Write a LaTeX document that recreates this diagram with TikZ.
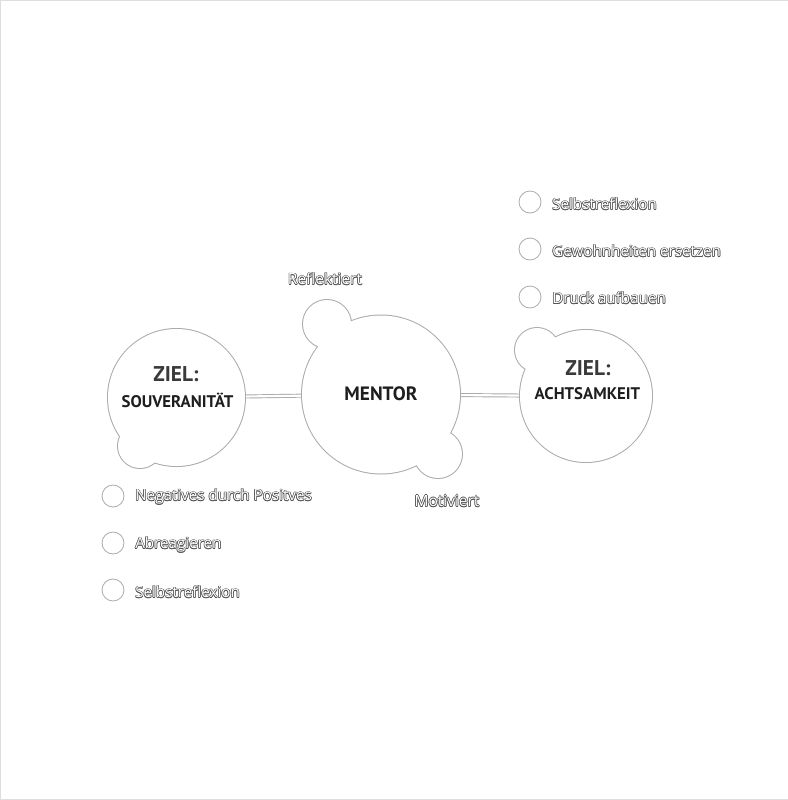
\documentclass[tikz,border=0pt]{standalone}
\usepackage{fontspec}
\setmainfont{Open Sans}
\newfontfamily\headfont{PT Sans}
\definecolor{blobgray}{HTML}{ABABAB}
\definecolor{halogray}{HTML}{555555}
\definecolor{framegray}{HTML}{DDDDDD}
\definecolor{headdark}{HTML}{1E1E1E}
\definecolor{headmid}{HTML}{3A3A3A}
\newlength\hw
\setlength\hw{0.5pt}
\newcommand\halotext[1]{\leavevmode
 \rlap{\color{halogray}\hspace*{-\hw}#1}%
 \rlap{\color{halogray}\hspace*{\hw}#1}%
 \rlap{\color{halogray}\raisebox{\hw}{#1}}%
 \rlap{\color{halogray}\raisebox{-\hw}{#1}}%
 \rlap{\color{halogray}\hspace*{-0.7\hw}\raisebox{0.7\hw}{#1}}%
 \rlap{\color{halogray}\hspace*{0.7\hw}\raisebox{0.7\hw}{#1}}%
 \rlap{\color{halogray}\hspace*{-0.7\hw}\raisebox{-0.7\hw}{#1}}%
 \rlap{\color{halogray}\hspace*{0.7\hw}\raisebox{-0.7\hw}{#1}}%
 {\color{white}#1}}
\tikzset{
  blobring/.style={draw=blobgray, line width=1.5pt},
  blobfill/.style={fill=white},
  bignode/.style={circle, inner sep=0pt, draw=none},
  conn/.style={draw=blobgray, line width=0.7pt, double=white, double distance=1.6pt},
  ziel/.style={font=\headfont\bfseries\fontsize{16}{18}\selectfont, text=headmid, inner sep=0pt},
  goal/.style={font=\headfont\bfseries\fontsize{12.6}{14}\selectfont, text=headdark, inner sep=0pt},
  mentortext/.style={font=\headfont\bfseries\fontsize{14.5}{16}\selectfont, text=headdark, inner sep=0pt},
  bullet/.style={circle, draw=blobgray, line width=0.6pt, minimum size=16.5pt, inner sep=0pt},
  itemtext/.style={anchor=west, inner sep=0pt, font=\fontsize{11.4}{13}\selectfont},
  lbl/.style={inner sep=0pt, font=\fontsize{11.6}{13}\selectfont},
}
\begin{document}
\begin{tikzpicture}[x=0.75pt, y=-0.75pt]
\useasboundingbox (0,0) rectangle (788,800);
\draw[framegray, line width=0.75pt] (788,0.5) -- (0.5,0.5) -- (0.5,799.5) -- (788,799.5);

% named circle nodes (big circles)
\node[bignode, minimum size=102.75pt] (souv) at (176.5,397.5) {};
\node[bignode, minimum size=118.5pt] (mentor) at (381,394.5) {};
\node[bignode, minimum size=99pt] (achts) at (586,396) {};

% connectors
\draw[conn] (souv) -- (mentor);
\draw[conn] (mentor) -- (achts);

% blob outlines: rings, then fills
\foreach \cx/\cy/\r in {176.5/397.5/68.5, 140/446/22,
                         381/394.5/79, 327/324/24, 438/454/24,
                         586/396/66, 537/350/22}{
  \draw[blobring] (\cx,\cy) circle [radius=\r];
}
\foreach \cx/\cy/\r in {176.5/397.5/68.5, 140/446/22,
                         381/394.5/79, 327/324/24, 438/454/24,
                         586/396/66, 537/350/22}{
  \fill[blobfill] (\cx,\cy) circle [radius=\r];
}

% heading texts
\node[ziel] (souvZ) at (176,374) {ZIEL:};
\node[goal] (souvT) at (177.5,400) {SOUVERANIT\"AT};
\node[mentortext] (mentorT) at (381,394) {MENTOR};
\node[ziel] (achtsZ) at (588,368) {ZIEL:};
\node[goal] (achtsT) at (587.5,394) {ACHTSAMKEIT};

% labels
\node[lbl] (refl) at (325,279) {\halotext{Reflektiert}};
\node[lbl] (motiv) at (447,501) {\halotext{Motiviert}};

% top-right items
\node[bullet] (b1) at (530,202) {};
\node[bullet] (b2) at (530,249) {};
\node[bullet] (b3) at (530,297) {};
\node[itemtext] (t1) at (552,204) {\halotext{Selbstreflexion}};
\node[itemtext] (t2) at (552,251) {\halotext{Gewohnheiten ersetzen}};
\node[itemtext] (t3) at (552,298) {\halotext{Druck aufbauen}};

% bottom-left items
\node[bullet] (b4) at (113,496) {};
\node[bullet] (b5) at (113,543) {};
\node[bullet] (b6) at (113,590) {};
\node[itemtext] (t4) at (135,497) {\halotext{Negatives durch Positves}};
\node[itemtext] (t5) at (135,545) {\halotext{Abreagieren}};
\node[itemtext] (t6) at (135,592) {\halotext{Selbstreflexion}};
\end{tikzpicture}
\end{document}
